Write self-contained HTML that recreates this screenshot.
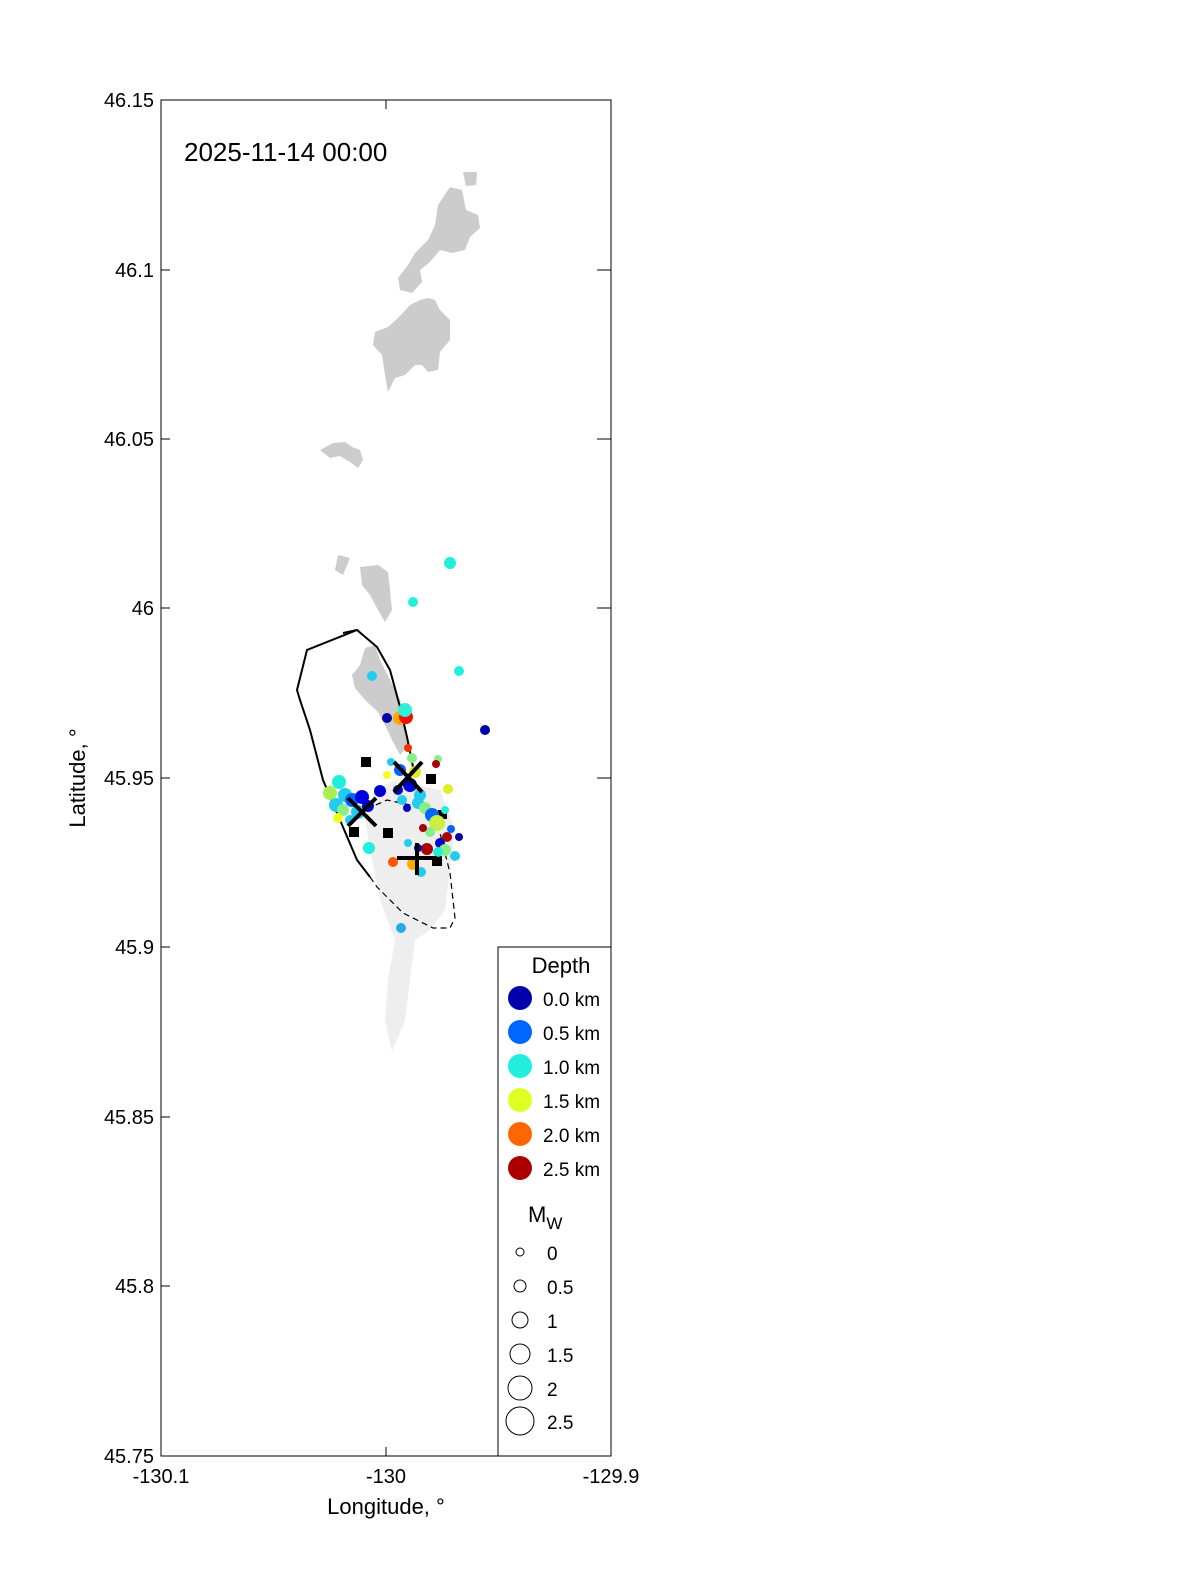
<!DOCTYPE html>
<html><head><meta charset="utf-8"><style>body{margin:0;background:#fff}svg{display:block}text{font-family:"Liberation Sans",sans-serif;fill:#000}</style></head><body>
<svg width="1200" height="1575" viewBox="0 0 1200 1575">
<!-- light gray -->
<path d="M375,790 L395,780 L440,790 L455,830 L450,870 L445,910 L430,930 L415,940 L410,980 L405,1020 L392,1052 L385,1020 L388,980 L395,940 L380,900 L372,860 L365,820 Z" fill="#eeeeee"/>
<!-- dark gray islands -->
<g fill="#cccccc">
<path d="M463,172 L477,172 L476,185 L466,186 Z"/>
<path d="M450,187 L462,190 L466,210 L478,215 L480,228 L470,237 L465,250 L452,253 L440,250 L430,262 L420,270 L422,282 L412,293 L400,290 L398,278 L408,265 L415,253 L428,240 L435,225 L438,205 Z"/>
<path d="M428,298 L435,300 L440,310 L450,320 L450,340 L440,352 L438,370 L428,372 L422,365 L415,365 L405,375 L395,378 L388,392 L385,375 L382,355 L373,345 L375,332 L388,327 L398,318 L410,305 L420,300 Z"/>
<path d="M320,450 L333,443 L345,442 L352,447 L360,450 L363,460 L358,468 L350,462 L340,456 L330,458 Z"/>
<path d="M338,555 L350,558 L343,575 L335,570 Z"/>
<path d="M360,567 L378,565 L388,572 L390,590 L392,610 L385,622 L378,610 L370,595 L362,585 Z"/>
<path d="M365,648 L375,645 L380,660 L390,680 L400,700 L405,720 L408,745 L400,755 L392,740 L385,725 L378,712 L365,700 L355,688 L352,675 L360,665 Z"/>
</g>
<!-- outlines -->
<path d="M343,633 L357,630 L377,647 L390,670 L400,707 L407,737 L413,767 M357,630 L307,650 L297,690 L300,700 L310,730 L323,780 L340,820 L357,860 L370,877" fill="none" stroke="#000" stroke-width="2"/>
<path d="M370,877 L377,887 L403,913 L433,928 L450,928 L455,918 L450,873 L440,833 L420,807 L387,800 L360,812" fill="none" stroke="#000" stroke-width="1.2" stroke-dasharray="6,4"/>
<!-- squares -->
<g fill="#000">
<rect x="361" y="757" width="10" height="10"/><rect x="426" y="774" width="10" height="10"/>
<rect x="349" y="827" width="10" height="10"/><rect x="383" y="828" width="10" height="10"/>
<rect x="432" y="856" width="10" height="10"/><rect x="438" y="810" width="9" height="9"/>
</g>
<!-- events -->
<g>
<circle cx="450" cy="563" r="6" fill="#22eedd"/>
<circle cx="413" cy="602" r="5" fill="#22eedd"/>
<circle cx="459" cy="671" r="5" fill="#22eedd"/>
<circle cx="372" cy="676" r="5" fill="#22ccee"/>
<circle cx="485" cy="730" r="5" fill="#0000aa"/>
<circle cx="387" cy="718" r="5" fill="#0000aa"/>
<circle cx="400" cy="718" r="7" fill="#ffaa00"/>
<circle cx="406" cy="717" r="7" fill="#ee1100"/>
<circle cx="405" cy="710" r="7" fill="#33eedd"/>
<circle cx="408" cy="748" r="4" fill="#ee3300"/>
<circle cx="412" cy="758" r="5" fill="#88ee88"/>
<circle cx="438" cy="759" r="4" fill="#88ee88"/>
<circle cx="436" cy="764" r="4" fill="#aa0000"/>
<circle cx="391" cy="762" r="4" fill="#22ccee"/>
<circle cx="387" cy="775" r="4" fill="#eeff22"/>
<circle cx="400" cy="770" r="6" fill="#0066ff"/>
<circle cx="410" cy="785" r="7" fill="#0000dd"/>
<circle cx="415" cy="772" r="6" fill="#ddee22"/>
<circle cx="398" cy="790" r="5" fill="#0000cc"/>
<circle cx="380" cy="791" r="6" fill="#0000cc"/>
<circle cx="420" cy="795" r="6" fill="#22ccee"/>
<circle cx="448" cy="789" r="5" fill="#ddee22"/>
<circle cx="339" cy="782" r="7" fill="#22eedd"/>
<circle cx="330" cy="793" r="7" fill="#aaee55"/>
<circle cx="345" cy="795" r="7" fill="#22ccee"/>
<circle cx="336" cy="805" r="7" fill="#22ccee"/>
<circle cx="343" cy="810" r="6" fill="#88ee88"/>
<circle cx="338" cy="818" r="5" fill="#eeff22"/>
<circle cx="352" cy="800" r="7" fill="#0066ff"/>
<circle cx="362" cy="797" r="7" fill="#0000dd"/>
<circle cx="358" cy="812" r="7" fill="#22ccee"/>
<circle cx="368" cy="806" r="6" fill="#0000cc"/>
<circle cx="350" cy="820" r="5" fill="#22ccee"/>
<circle cx="369" cy="848" r="6" fill="#22eedd"/>
<circle cx="402" cy="800" r="5" fill="#22ccee"/>
<circle cx="407" cy="808" r="4" fill="#0000cc"/>
<circle cx="418" cy="803" r="6" fill="#22ccee"/>
<circle cx="425" cy="808" r="6" fill="#88ee88"/>
<circle cx="432" cy="815" r="7" fill="#0066ff"/>
<circle cx="437" cy="823" r="8" fill="#ccee44"/>
<circle cx="430" cy="832" r="5" fill="#88ee88"/>
<circle cx="445" cy="810" r="4" fill="#22eedd"/>
<circle cx="423" cy="828" r="4" fill="#aa0000"/>
<circle cx="451" cy="829" r="4" fill="#0066ff"/>
<circle cx="459" cy="837" r="4" fill="#0000aa"/>
<circle cx="447" cy="837" r="5" fill="#aa0000"/>
<circle cx="440" cy="843" r="5" fill="#0000cc"/>
<circle cx="445" cy="850" r="6" fill="#88ee88"/>
<circle cx="455" cy="856" r="5" fill="#22ccee"/>
<circle cx="438" cy="852" r="5" fill="#22eedd"/>
<circle cx="427" cy="849" r="6" fill="#aa0000"/>
<circle cx="408" cy="843" r="4" fill="#22ccee"/>
<circle cx="418" cy="848" r="4" fill="#0000cc"/>
<circle cx="393" cy="862" r="5" fill="#ff5500"/>
<circle cx="413" cy="864" r="6" fill="#ffaa00"/>
<circle cx="421" cy="872" r="5" fill="#22ccee"/>
<circle cx="401" cy="928" r="5" fill="#22aaee"/>
</g>
<!-- crosses -->
<g stroke="#000" stroke-width="4">
<path d="M394,762 L422,792 M422,762 L394,792"/>
<path d="M348,798 L376,826 M376,798 L348,826"/>
<path d="M397,858 L437,858 M417,843 L417,875"/>
</g>
<!-- axes -->
<rect x="161" y="100" width="450" height="1356" fill="none" stroke="#000" stroke-width="1"/>
<g stroke="#000" stroke-width="1">
<path d="M161,270 h9 M161,439 h9 M161,608 h9 M161,778 h9 M161,947 h9 M161,1117 h9 M161,1286 h9"/>
<path d="M611,270 h-14 M611,439 h-14 M611,608 h-14 M611,778 h-14 M611,1117 h-14 M611,1286 h-14"/>
<path d="M386,1456 v-9 M386,100 v9"/>
</g>
<g font-size="20" text-anchor="end">
<text x="154" y="107">46.15</text><text x="154" y="277">46.1</text><text x="154" y="446">46.05</text>
<text x="154" y="615">46</text><text x="154" y="785">45.95</text><text x="154" y="954">45.9</text>
<text x="154" y="1124">45.85</text><text x="154" y="1293">45.8</text><text x="154" y="1463">45.75</text>
</g>
<g font-size="20" text-anchor="middle">
<text x="161" y="1483">-130.1</text><text x="386" y="1483">-130</text><text x="611" y="1483">-129.9</text>
<text x="386" y="1514" font-size="22">Longitude, °</text>
</g>
<text transform="translate(85,778) rotate(-90)" font-size="22" text-anchor="middle">Latitude, °</text>
<text x="184" y="161" font-size="26">2025-11-14 00:00</text>
<!-- legend -->
<rect x="498" y="947" width="113" height="509" fill="#fff" stroke="#000" stroke-width="1"/>
<text x="561" y="973" font-size="22" text-anchor="middle">Depth</text>
<g font-size="19">
<circle cx="520" cy="998" r="12" fill="#0000aa"/><text x="543" y="1006">0.0 km</text>
<circle cx="520" cy="1032" r="12" fill="#0066ff"/><text x="543" y="1040">0.5 km</text>
<circle cx="520" cy="1066" r="12" fill="#22eedd"/><text x="543" y="1074">1.0 km</text>
<circle cx="520" cy="1100" r="12" fill="#ddff22"/><text x="543" y="1108">1.5 km</text>
<circle cx="520" cy="1134" r="12" fill="#ff6600"/><text x="543" y="1142">2.0 km</text>
<circle cx="520" cy="1168" r="12" fill="#aa0000"/><text x="543" y="1176">2.5 km</text>
</g>
<text x="528" y="1222" font-size="22">M<tspan font-size="17" dy="7">W</tspan></text>
<g font-size="19" fill="none" stroke="#000" stroke-width="1">
<circle cx="520" cy="1252" r="4"/><circle cx="520" cy="1286" r="6"/><circle cx="520" cy="1320" r="8"/>
<circle cx="520" cy="1354" r="10"/><circle cx="520" cy="1388" r="12"/><circle cx="520" cy="1421" r="14"/>
</g>
<g font-size="19">
<text x="547" y="1260">0</text><text x="547" y="1294">0.5</text><text x="547" y="1328">1</text>
<text x="547" y="1362">1.5</text><text x="547" y="1396">2</text><text x="547" y="1429">2.5</text>
</g>
</svg>
</body></html>
